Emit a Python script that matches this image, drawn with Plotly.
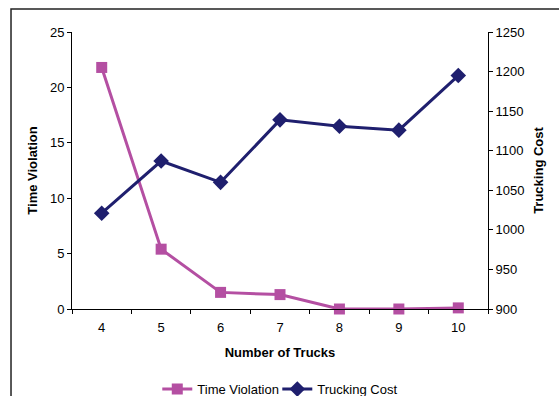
import plotly.graph_objects as go

# Data
trucks = [4, 5, 6, 7, 8, 9, 10]
time_violation = [21.8, 5.4, 1.5, 1.3, 0.0, 0.0, 0.1]
trucking_cost = [1021, 1087, 1060, 1139, 1131, 1126, 1195]

left_ticks = [0, 5, 10, 15, 20, 25]
right_ticks = [900, 950, 1000, 1050, 1100, 1150, 1200, 1250]
boundaries = [t - 0.5 for t in trucks] + [trucks[-1] + 0.5]

FONT = "Liberation Sans, Arial, sans-serif"
MAGENTA = "#B44FA2"
NAVY = "#1F1F6E"
FS = 13

fig = go.Figure()

fig.add_trace(go.Scatter(
    x=trucks, y=time_violation, name="Time Violation",
    mode="lines+markers",
    line=dict(color=MAGENTA, width=3),
    marker=dict(symbol="square", size=11, color=MAGENTA),
    cliponaxis=False, yaxis="y", legend="legend",
))
fig.add_trace(go.Scatter(
    x=trucks, y=trucking_cost, name="Trucking Cost",
    mode="lines+markers",
    line=dict(color=NAVY, width=3),
    marker=dict(symbol="diamond", size=12, color=NAVY),
    cliponaxis=False, yaxis="y2", legend="legend2",
))

tick_font = dict(family=FONT, size=FS, color="#000")
title_font = dict(family=FONT, size=FS, color="#000", weight="bold")
legend_style = dict(orientation="h", xanchor="left", y=-0.289, yanchor="middle",
                    font=dict(family=FONT, size=FS, color="#000"), itemwidth=30,
                    bgcolor="rgba(0,0,0,0)")

fig.update_layout(
    width=559, height=396,
    margin=dict(l=72, r=71, t=32, b=87, autoexpand=False),
    paper_bgcolor="white", plot_bgcolor="white",
    font=dict(family=FONT, size=FS, color="#000"),
    showlegend=True,
    legend=dict(x=0.205, **legend_style),
    legend2=dict(x=0.4935, **legend_style),
    xaxis=dict(
        range=[boundaries[0], boundaries[-1]], automargin=False,
        tickvals=trucks, ticktext=[str(t) for t in trucks], ticks="",
        tickfont=tick_font, showgrid=False, zeroline=False, ticklabelstandoff=6,
        showline=True, linecolor="#000", linewidth=1,
        minor=dict(tickvals=boundaries, ticks="outside", ticklen=4, tickcolor="#000", showgrid=False),
        title=dict(text="Number of Trucks", font=title_font, standoff=14),
    ),
    xaxis2=dict(
        overlaying="x", side="top", range=[boundaries[0], boundaries[-1]], automargin=False,
        showticklabels=False, ticks="", showgrid=False, zeroline=False,
        showline=True, linecolor="#999", linewidth=1,
    ),
    xaxis3=dict(
        overlaying="x", side="bottom", range=[boundaries[0], boundaries[-1]], automargin=False,
        tickvals=boundaries, ticks="inside", ticklen=4, tickcolor="#000",
        showticklabels=False, showgrid=False, zeroline=False, showline=False,
    ),
    yaxis=dict(
        range=[0, 25], tickvals=left_ticks, ticks="outside", ticklen=4, tickcolor="#000",
        tickfont=tick_font, showgrid=False, zeroline=False, automargin=False,
        showline=True, linecolor="#000", linewidth=1,
        title=dict(text="Time Violation", font=title_font, standoff=9),
    ),
    yaxis2=dict(
        overlaying="y", side="right", range=[900, 1250], tickvals=right_ticks,
        ticks="outside", ticklen=4, tickcolor="#000", automargin=False,
        tickfont=tick_font, showgrid=False, zeroline=False,
        showline=True, linecolor="#000", linewidth=1,
        title=dict(text="Trucking Cost", font=title_font, standoff=10),
    ),
    yaxis3=dict(
        overlaying="y", side="left", range=[0, 25], tickvals=left_ticks, automargin=False,
        ticks="inside", ticklen=4, tickcolor="#000", showticklabels=False,
        showgrid=False, zeroline=False, showline=False,
    ),
    yaxis4=dict(
        overlaying="y", side="right", range=[900, 1250], tickvals=right_ticks, automargin=False,
        ticks="inside", ticklen=4, tickcolor="#000", showticklabels=False,
        showgrid=False, zeroline=False, showline=False,
    ),
)

# Chart-area frame
fig.add_shape(type="rect", xref="paper", yref="paper",
              x0=-0.1466, x1=1.25, y0=-0.45, y1=1.083,
              line=dict(color="#222", width=1.5), layer="below")

fig.write_html("out.html")
